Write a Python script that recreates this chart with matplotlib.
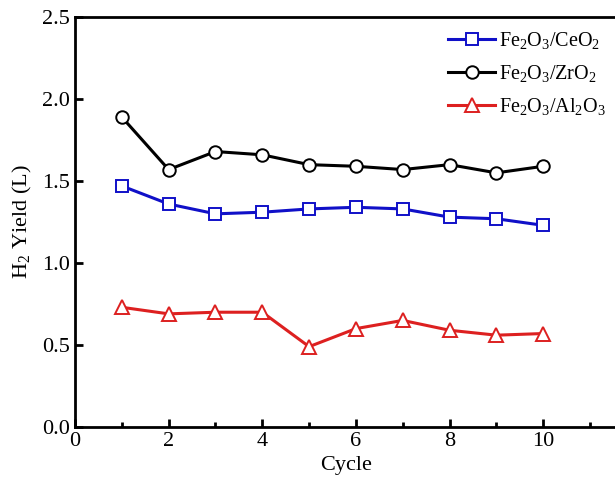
import matplotlib
matplotlib.use("Agg")
import matplotlib.pyplot as plt
from matplotlib.ticker import MultipleLocator

plt.rcParams['font.family'] = ['Liberation Serif', 'DejaVu Serif']
plt.rcParams['mathtext.fontset'] = 'custom'
plt.rcParams['mathtext.rm'] = 'Liberation Serif'
plt.rcParams['mathtext.it'] = 'Liberation Serif:italic'

cycles = [1, 2, 3, 4, 5, 6, 7, 8, 9, 10]
ceo2 = [1.47, 1.36, 1.30, 1.31, 1.33, 1.34, 1.33, 1.28, 1.27, 1.23]
zro2 = [1.89, 1.57, 1.68, 1.66, 1.60, 1.59, 1.57, 1.60, 1.55, 1.59]
al2o3 = [0.73, 0.69, 0.70, 0.70, 0.49, 0.60, 0.65, 0.59, 0.56, 0.57]

labels = [r"Fe$_2$O$_3$/CeO$_2$", r"Fe$_2$O$_3$/ZrO$_2$", r"Fe$_2$O$_3$/Al$_2$O$_3$"]

fig = plt.figure(figsize=(6.15, 4.88), dpi=100)
ax = fig.add_axes([0.122, 0.125, 0.883, 0.84])

ax.plot(cycles, ceo2, color='#1010c8', lw=2.2, marker='s', ms=8, mfc='white', mec='#1010c8', mew=1.4, label=labels[0])
ax.plot(cycles, zro2, color='black', lw=2.2, marker='o', ms=9, mfc='white', mec='black', mew=1.4, label=labels[1])
ax.plot(cycles, al2o3, color='#dd2020', lw=2.2, marker='^', ms=10, mfc='white', mec='#dd2020', mew=1.4, label=labels[2])

ax.set_xlim(0, 11.6)
ax.set_ylim(0, 2.5)
ax.xaxis.set_minor_locator(MultipleLocator(1))
ax.yaxis.set_major_locator(MultipleLocator(0.5))
ax.set_xticks([0, 2, 4, 6, 8, 10])
ax.tick_params(which='major', direction='in', length=6, width=2, labelsize=16)
ax.tick_params(which='minor', direction='in', length=3.5, width=2)
ax.yaxis.set_major_formatter(matplotlib.ticker.FormatStrFormatter('%.1f'))
for s in ax.spines.values():
    s.set_linewidth(2)

ax.set_xlabel("Cycle", fontsize=16, labelpad=4)
ax.set_ylabel(r"H$_2$ Yield (L)", fontsize=16, labelpad=6)

fig.legend(loc='upper left', bbox_to_anchor=(0.716, 0.955), frameon=False,
           fontsize=14.5, handlelength=2.3, handletextpad=0.2, labelspacing=0.6, borderaxespad=0)

fig.savefig("out.png", dpi=100)
